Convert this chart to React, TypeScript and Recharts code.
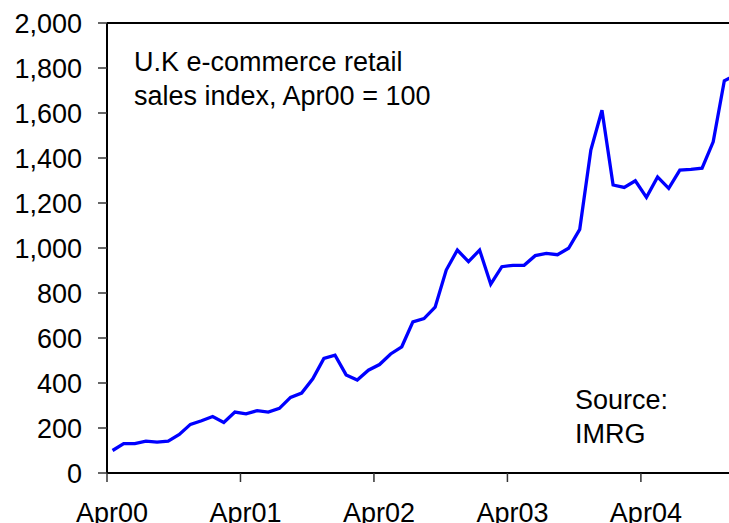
import { Line, LineChart, ReferenceLine, XAxis, YAxis } from "recharts";

// monthly index, Apr00 .. Dec04 (Apr00 = 100)
const months = [
  "Apr00", "May00", "Jun00", "Jul00", "Aug00", "Sep00", "Oct00", "Nov00", "Dec00", "Jan01", "Feb01", "Mar01",
  "Apr01", "May01", "Jun01", "Jul01", "Aug01", "Sep01", "Oct01", "Nov01", "Dec01", "Jan02", "Feb02", "Mar02",
  "Apr02", "May02", "Jun02", "Jul02", "Aug02", "Sep02", "Oct02", "Nov02", "Dec02", "Jan03", "Feb03", "Mar03",
  "Apr03", "May03", "Jun03", "Jul03", "Aug03", "Sep03", "Oct03", "Nov03", "Dec03", "Jan04", "Feb04", "Mar04",
  "Apr04", "May04", "Jun04", "Jul04", "Aug04", "Sep04", "Oct04", "Nov04", "Dec04"
];

const salesIndex = [
  100, 131, 131, 142, 137, 142, 171, 216, 232, 251, 225, 271,
  263, 277, 271, 287, 336, 355, 419, 509, 524, 436, 413, 457,
  482, 529, 561, 672, 686, 737, 902, 991, 939, 991, 839, 917,
  923, 923, 966, 976, 970, 999, 1083, 1435, 1612, 1280, 1269, 1299,
  1225, 1316, 1265, 1346, 1349, 1355, 1472, 1743, 1770
];

const yTicks = [0, 200, 400, 600, 800, 1000, 1200, 1400, 1600, 1800, 2000];
const xTickLabels = ["Apr00", "Apr01", "Apr02", "Apr03", "Apr04"];
const xTicks = [0, 12, 24, 36, 48];

// points sit in the middle of their month, ticks on the month boundary
const data = months.map((m, i) => ({ month: m, x: i + 0.5, value: salesIndex[i] }));

const font = "'Liberation Sans', Arial, sans-serif";

export default function App() {
  return (
    <div
      style={{
        position: "absolute",
        left: 0,
        top: 0,
        width: 729,
        height: 523,
        overflow: "hidden",
        background: "#fff",
        fontFamily: font
      }}
    >
      <LineChart
        width={741}
        height={560}
        data={data}
        margin={{ top: 23, right: 0, left: 0, bottom: 27 }}
      >
        <XAxis
          dataKey="x"
          type="number"
          domain={[0, 57]}
          ticks={xTicks}
          interval={0}
          tickFormatter={(v: number) => xTickLabels[xTicks.indexOf(v)] ?? ""}
          height={60}
          tickSize={9}
          tickMargin={21}
          tick={{ fill: "#000", fontSize: 27, fontFamily: font, dx: 5 }}
          tickLine={{ stroke: "#333", strokeWidth: 1.5 }}
          axisLine={{ stroke: "#000", strokeWidth: 2 }}
        />
        <YAxis
          type="number"
          domain={[0, 2000]}
          ticks={yTicks}
          interval={0}
          width={107}
          tickSize={9}
          tickMargin={16}
          tickFormatter={(v: number) => v.toLocaleString("en-US")}
          tick={{ fill: "#000", fontSize: 27, fontFamily: font }}
          tickLine={{ stroke: "#333", strokeWidth: 1.5 }}
          axisLine={{ stroke: "#000", strokeWidth: 2 }}
        />
        <ReferenceLine y={2000} stroke="#000" strokeWidth={2} />
        <Line
          type="linear"
          dataKey="value"
          stroke="#0000ff"
          strokeWidth={3.3}
          dot={false}
          activeDot={false}
          isAnimationActive={false}
        />
      </LineChart>

      <div
        style={{
          position: "absolute",
          left: 134,
          top: 45,
          fontSize: 27,
          lineHeight: "34px",
          color: "#000",
          whiteSpace: "nowrap"
        }}
      >
        U.K e-commerce retail
        <br />
        sales index, Apr00 = 100
      </div>

      <div
        style={{
          position: "absolute",
          left: 575,
          top: 383,
          fontSize: 27,
          lineHeight: "34px",
          color: "#000",
          whiteSpace: "nowrap"
        }}
      >
        Source:
        <br />
        IMRG
      </div>
    </div>
  );
}
